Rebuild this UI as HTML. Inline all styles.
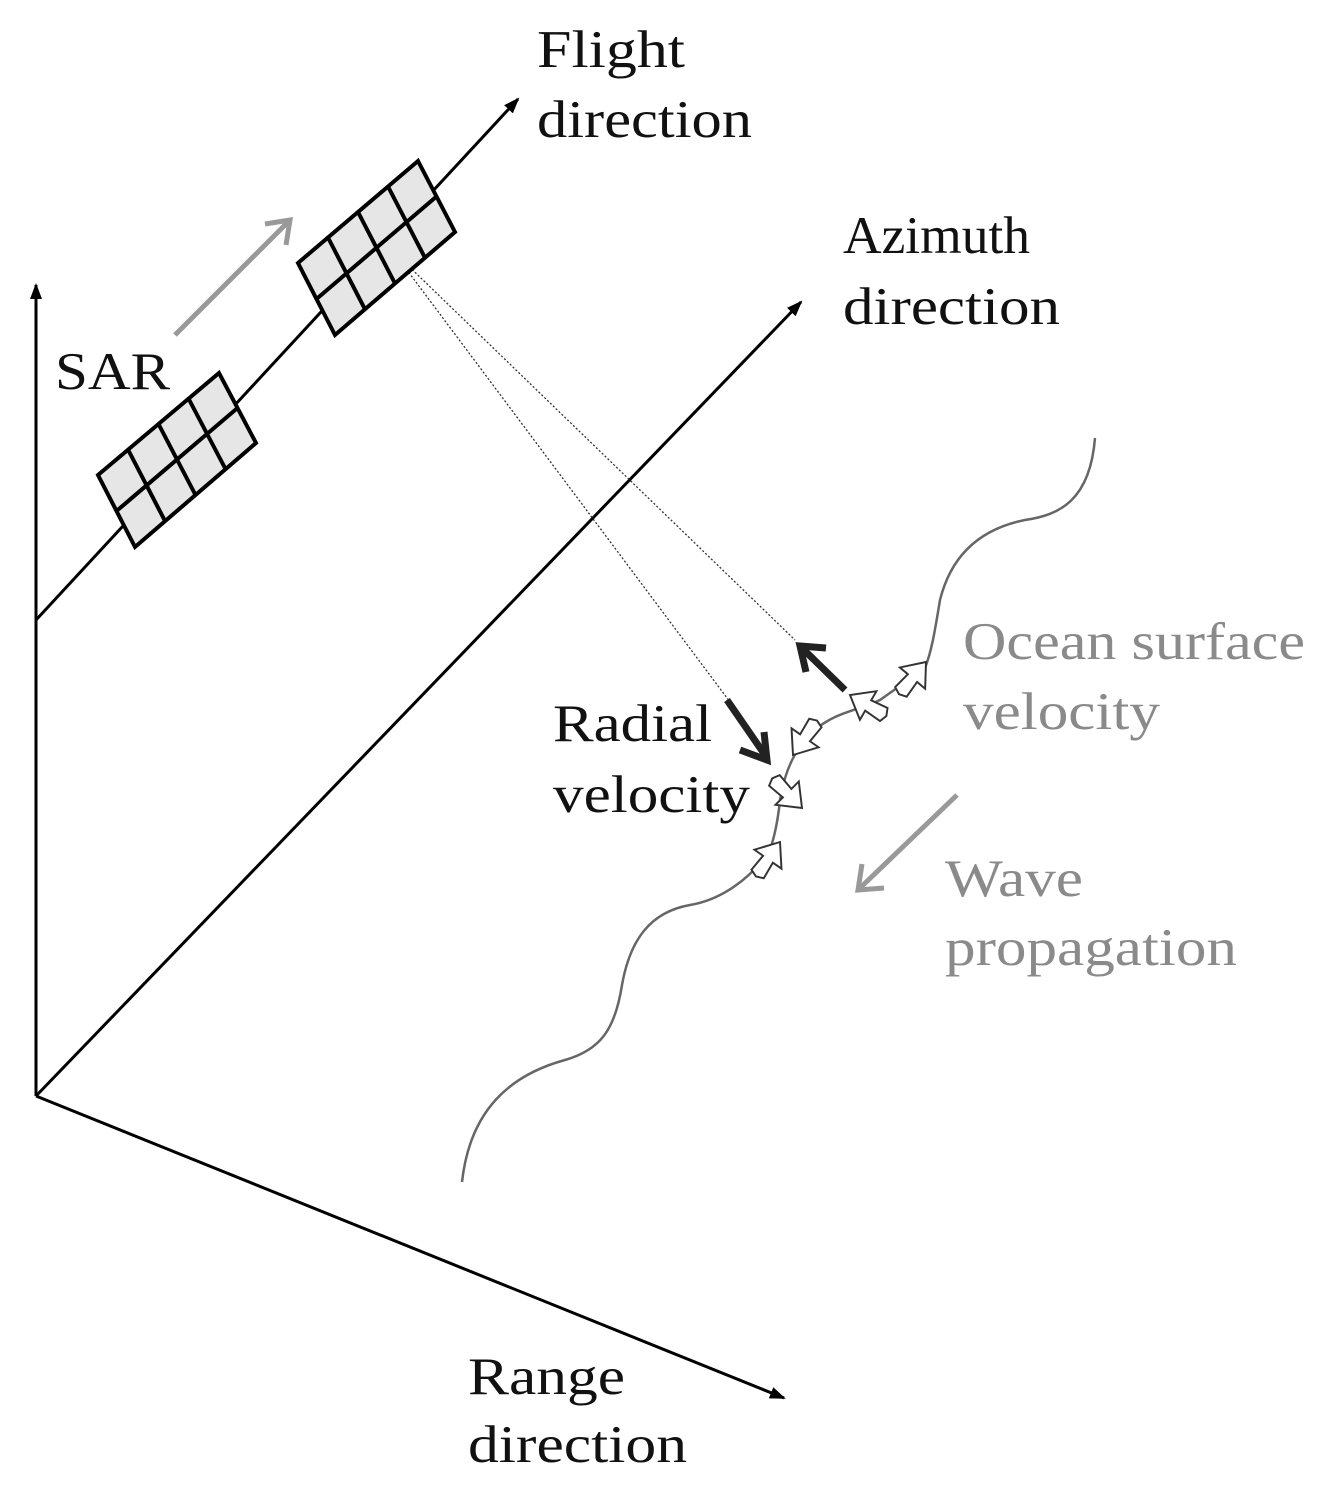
<!DOCTYPE html>
<html><head><meta charset="utf-8"><style>
html,body{margin:0;padding:0;background:#fff;}
svg{display:block;}
text{font-family:"Liberation Serif",serif;font-size:53px;}
</style></head><body>
<svg width="1333" height="1490" viewBox="0 0 1333 1490" xmlns="http://www.w3.org/2000/svg">
<defs>
<marker id="ah" markerWidth="16" markerHeight="12" refX="14" refY="6" orient="auto" markerUnits="userSpaceOnUse" viewBox="0 0 16 12"><path d="M0,0 L16,6 L0,12 Z" fill="#000"/></marker>
</defs>
<g stroke="#000" stroke-width="3" fill="none">
<line x1="36" y1="1096" x2="36" y2="285" marker-end="url(#ah)"/>
<line x1="36" y1="1096" x2="801" y2="302" marker-end="url(#ah)"/>
<line x1="36" y1="1096" x2="784" y2="1398" marker-end="url(#ah)"/>
<line x1="36" y1="620" x2="518" y2="99" marker-end="url(#ah)"/>
</g>
<g stroke="#333" stroke-width="1.3" stroke-dasharray="2,2" fill="none">
<line x1="392" y1="250" x2="795" y2="640"/>
<line x1="392" y1="250" x2="730" y2="702"/>
</g>
<g stroke="#000" stroke-width="4" fill="#e6e6e6">
<polygon points="298,263 418,161 455,232 335,335"/>
<line x1="328" y1="237.5" x2="365" y2="309.3"/>
<line x1="358" y1="212" x2="395" y2="283.5"/>
<line x1="388" y1="186.5" x2="425" y2="257.8"/>
<line x1="316.5" y1="299" x2="436.5" y2="196.5"/>
<polygon points="98,475 219,373 256,443 135,547"/>
<line x1="128" y1="449.5" x2="165" y2="521"/>
<line x1="158.5" y1="424" x2="195.5" y2="495"/>
<line x1="188.5" y1="398.5" x2="225.5" y2="469"/>
<line x1="116.5" y1="511" x2="237.5" y2="408"/>
</g>
<g stroke="#999" stroke-width="5" fill="none">
<line x1="175" y1="335" x2="288" y2="222"/>
<path d="M265,224 L290,220 L286,245"/>
</g>
<path d="M1095,438 C1090,500 1060,515 1025,520 C975,530 950,560 940,600 C935,630 932,650 925,668 L880,700 C860,710 835,712 815,730 C795,748 785,770 780,800 C778,820 775,835 770,850 C750,880 720,900 690,905 C650,912 630,940 622,985 C615,1030 600,1050 565,1060 C510,1075 470,1110 462,1182" fill="none" stroke="#666" stroke-width="2.5"/>
<g fill="#fff" stroke="#333" stroke-width="1.3">
<g transform="translate(926,662) rotate(-50) scale(1.5)"><path d="M0,0 L-14,-11 L-14,-4 L-26,-5 L-28,0 L-26,5 L-14,4 L-14,11 Z"/></g>
<g transform="translate(850,695) rotate(-150) scale(1.5)"><path d="M0,0 L-14,-11 L-14,-4 L-26,-5 L-28,0 L-26,5 L-14,4 L-14,11 Z"/></g>
<g transform="translate(793,755) rotate(125) scale(1.5)"><path d="M0,0 L-14,-11 L-14,-4 L-26,-5 L-28,0 L-26,5 L-14,4 L-14,11 Z"/></g>
<g transform="translate(802,808) rotate(45) scale(1.5)"><path d="M0,0 L-14,-11 L-14,-4 L-26,-5 L-28,0 L-26,5 L-14,4 L-14,11 Z"/></g>
<g transform="translate(780,842) rotate(-55) scale(1.5)"><path d="M0,0 L-14,-11 L-14,-4 L-26,-5 L-28,0 L-26,5 L-14,4 L-14,11 Z"/></g>
</g>
<g stroke="#222" stroke-width="7" fill="none">
<line x1="845" y1="690" x2="802" y2="648"/>
<path d="M826,648 L800,646 L806,672"/>
<line x1="727" y1="700" x2="765" y2="755"/>
<path d="M740,750 L767,760 L764,732"/>
</g>
<g stroke="#999" stroke-width="5" fill="none">
<line x1="957" y1="795" x2="860" y2="888"/>
<path d="M862,864 L858,890 L884,888"/>
</g>
<g fill="#111">
<text x="537" y="67" textLength="148" lengthAdjust="spacingAndGlyphs">Flight</text>
<text x="537" y="137" textLength="215" lengthAdjust="spacingAndGlyphs">direction</text>
<text x="843" y="253" textLength="187" lengthAdjust="spacingAndGlyphs">Azimuth</text>
<text x="843" y="324" textLength="217" lengthAdjust="spacingAndGlyphs">direction</text>
<text x="55" y="389" textLength="115" lengthAdjust="spacingAndGlyphs">SAR</text>
<text x="553" y="741" textLength="159" lengthAdjust="spacingAndGlyphs">Radial</text>
<text x="553" y="812" textLength="197" lengthAdjust="spacingAndGlyphs">velocity</text>
<text x="468" y="1394" textLength="157" lengthAdjust="spacingAndGlyphs">Range</text>
<text x="468" y="1462" textLength="219" lengthAdjust="spacingAndGlyphs">direction</text>
</g>
<g fill="#8a8a8a">
<text x="963" y="659" textLength="342" lengthAdjust="spacingAndGlyphs">Ocean surface</text>
<text x="963" y="729" textLength="197" lengthAdjust="spacingAndGlyphs">velocity</text>
<text x="945" y="896" textLength="138" lengthAdjust="spacingAndGlyphs">Wave</text>
<text x="945" y="965" textLength="292" lengthAdjust="spacingAndGlyphs">propagation</text>
</g>
</svg>
</body></html>
